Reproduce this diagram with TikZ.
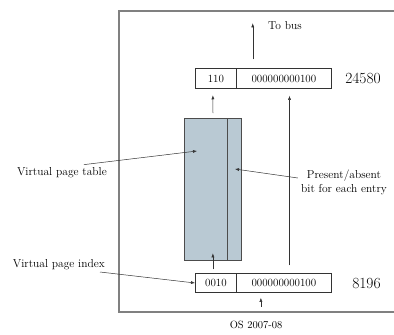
\documentclass[tikz,border=0pt]{standalone}
\usepackage{xcolor}
\usepackage{tikz}
\usetikzlibrary{arrows.meta,calc,positioning}
\definecolor{tablefill}{RGB}{185,201,211}
\definecolor{framegray}{RGB}{128,128,128}

\begin{document}
\begin{tikzpicture}[
            x=1pt, y=-1pt, % picture units follow the page grid, y runs down
            field/.style={
                draw=black!80, line width=0.6pt,
                minimum height=19.5pt, inner sep=0pt, outer sep=0pt,
                font=\fontsize{11}{13}\selectfont
            },
            pagetbl/.style={
                draw=black!70, fill=tablefill, line width=0.8pt,
                minimum height=142pt, inner sep=0pt, outer sep=0pt
            },
            lbl/.style={font=\fontsize{11.5}{14}\selectfont, inner sep=0pt},
            addr_val/.style={font=\fontsize{15.5}{18}\selectfont, inner sep=0pt, anchor=west},
            link/.style={-{Latex[length=4pt,width=3pt]}, line width=0.5pt, draw=black!80}
        ]
        \useasboundingbox (0,0) rectangle (394,335);

        % Frame (open on the right)
        \draw[framegray, line width=1.2pt] (394,11) -- (119,11) -- (119,312) -- (394,312);

        % Physical address register
        \node[field, minimum width=41.7pt] (phys-hi) at (215.9,78.5) {110};
        \node[field, minimum width=94.3pt, right=0pt of phys-hi] (phys-lo) {000000000100};
        \node[addr_val, right=14pt of phys-lo] (phys-val) {24580};

        % Virtual address register
        \node[field, minimum width=41.7pt] (virt-hi) at (215.9,283) {0010};
        \node[field, minimum width=94.3pt, right=0pt of virt-hi] (virt-lo) {000000000100};
        \node[addr_val, right=21pt of virt-lo] (virt-val) {8196};

        % Page table with present/absent column
        \node[pagetbl, minimum width=43pt] (ptable) at (205.5,189) {};
        \node[pagetbl, minimum width=14.5pt, right=0pt of ptable] (pbit) {};

        % Labels
        \node[lbl, anchor=west] (bus) at (268,26) {To bus};
        \node[lbl, anchor=east] (vpt) at (107,173) {Virtual page table};
        \node[lbl, align=center] (pab) at (344,182) {Present/absent\\bit for each entry};
        \node[lbl, anchor=east] (vpi) at (105,265) {Virtual page index};
        \node[font=\fontsize{10.5}{12}\selectfont, inner sep=0pt] (credit) at (256,325) {OS 2007-08};

        % Data paths
        \draw[link] ([shift={(16,-9.5)}]phys-lo.north west) -- ++(0,-36);
        \draw[link] ([shift={(7.5,-5)}]ptable.north) -- ([shift={(-3,7)}]phys-hi.south);
        \draw[link] ([shift={(5.6,-8)}]virt-lo.north) -- ([shift={(5.6,7.5)}]phys-lo.south);
        \draw[link] ([shift={(-3,-4)}]virt-hi.north) -- ++(0,-16);
        \draw[link] ([shift={(-23,14)}]virt-lo.south) -- ([shift={(-23,5)}]virt-lo.south);

        % Pointers from the labels
        \draw[link] ([shift={(22,-3)}]vpt.north) -- ([shift={(-8.5,-38)}]ptable.center);
        \draw[link] ([shift={(-3,-4)}]pab.west) -- ([shift={(0.75,-20)}]pbit.center);
        \draw[link] ([shift={(-5,7)}]vpi.east) -- (virt-hi.west);
        \end{tikzpicture}
\end{document}
